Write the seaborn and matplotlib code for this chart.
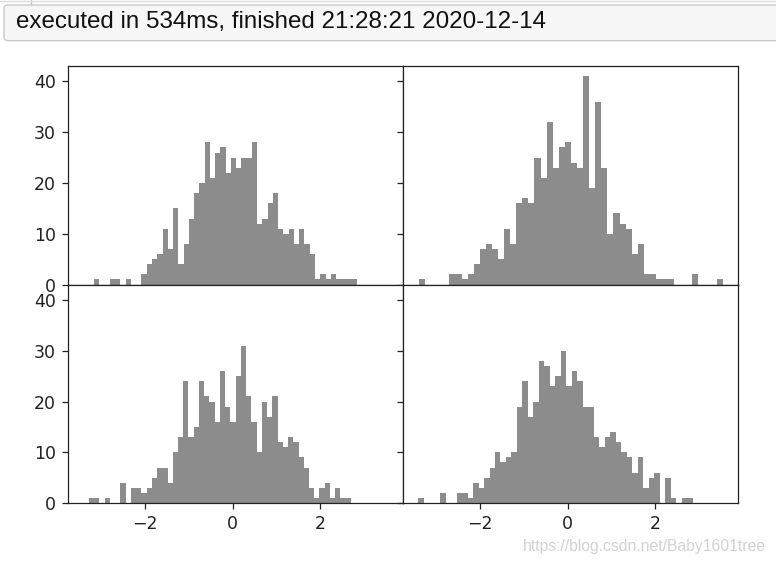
import numpy as np
import pandas as pd
import matplotlib
matplotlib.use("Agg")
import matplotlib.pyplot as plt
import seaborn as sns
from matplotlib.patches import FancyBboxPatch
from matplotlib.lines import Line2D

# ---- data (bin counts, 50 bins per panel) ----
n_bins = 50

tl_range = (-3.16, 2.84)
tl_counts = [1, 0, 0, 1, 1, 0, 1, 0, 0, 2, 4, 5, 6, 11, 7, 15, 4, 8, 13, 18,
             20, 28, 21, 26, 27, 22, 25, 23, 25, 25, 28, 12, 13, 16, 18, 11, 10, 11, 8, 11,
             8, 6, 1, 2, 1, 2, 1, 1, 1, 1]

tr_range = (-3.39, 3.54)
tr_counts = [1, 0, 0, 0, 0, 2, 2, 1, 2, 4, 7, 8, 7, 5, 11, 8, 16, 17, 16, 25,
             21, 32, 23, 27, 28, 24, 23, 41, 19, 36, 23, 10, 14, 12, 11, 6, 8, 2, 2, 1,
             1, 1, 0, 0, 0, 2, 0, 0, 0, 1]

bl_range = (-3.28, 2.70)
bl_counts = [1, 1, 0, 1, 0, 0, 4, 0, 3, 3, 2, 3, 5, 7, 7, 4, 10, 13, 24, 13,
             15, 24, 21, 20, 16, 26, 19, 16, 25, 31, 21, 16, 10, 20, 17, 21, 12, 11, 13, 12,
             9, 7, 3, 1, 3, 4, 1, 3, 1, 1]

br_range = (-3.41, 2.85)
br_counts = [1, 0, 0, 0, 2, 0, 0, 2, 2, 1, 4, 3, 5, 7, 10, 8, 9, 10, 19, 24,
             17, 20, 28, 27, 23, 25, 30, 23, 26, 24, 19, 19, 13, 11, 13, 14, 12, 10, 9, 6,
             9, 3, 5, 6, 0, 5, 1, 0, 1, 1]

xtick_values = [-2, 0, 2]
ytick_values = [0, 10, 20, 30, 40]

header_text = "executed in 534ms, finished 21:28:21 2020-12-14"
watermark_text = "https://blog.csdn.net/Baby1601tree"

# ---- style ----
sns.set_theme(style="ticks")
plt.rcParams["font.family"] = ["DejaVu Sans"]
plt.rcParams.update({
    "axes.edgecolor": "#222222",
    "axes.linewidth": 0.9,
    "xtick.color": "#222222",
    "ytick.color": "#222222",
    "xtick.labelcolor": "#222222",
    "ytick.labelcolor": "#222222",
    "xtick.direction": "out",
    "ytick.direction": "out",
    "xtick.major.size": 4.3,
    "ytick.major.size": 4.3,
    "xtick.major.width": 0.9,
    "ytick.major.width": 0.9,
    "xtick.major.pad": 4.5,
    "ytick.major.pad": 4.5,
    "xtick.labelsize": 12.5,
    "ytick.labelsize": 12.5,
    "axes.unicode_minus": True,
})

fig, axes = plt.subplots(2, 2, sharex=True, sharey=True, figsize=(7.76, 5.64), dpi=100)
fig.subplots_adjust(left=0.0876, right=0.951, top=0.883, bottom=0.108, wspace=0, hspace=0)

panels = [(tl_range, tl_counts), (tr_range, tr_counts),
          (bl_range, bl_counts), (br_range, br_counts)]

for ax, (rng, counts) in zip(axes.flat, panels):
    width = (rng[1] - rng[0]) / n_bins
    centers = rng[0] + width * (np.arange(n_bins) + 0.5)
    df = pd.DataFrame({"value": centers, "count": counts})
    sns.histplot(data=df, x="value", weights="count", bins=n_bins, binrange=rng,
                 color="k", alpha=0.5, linewidth=0, ax=ax)
    ax.set_xlabel("")
    ax.set_ylabel("")
    for s in ax.spines.values():
        s.set_visible(True)

axes[0, 0].set_xticks(xtick_values)
axes[0, 0].set_yticks(ytick_values)

# ---- notebook header and watermark ----
fig.patches.append(FancyBboxPatch((4 / 776, 1 - 40.7 / 564), 0.999, 35.7 / 564,
                                  boxstyle="round,pad=0,rounding_size=0.006",
                                  transform=fig.transFigure, facecolor="#f7f7f7",
                                  edgecolor="#c9c9c9", linewidth=1.0, zorder=0))
fig.lines.append(Line2D([31 / 776, 31 / 776], [1 - 5 / 564, 1.0],
                        transform=fig.transFigure, color="#c9c9c9", linewidth=1.0))
fig.lines.append(Line2D([0, 1], [1 - 1 / 564, 1 - 1 / 564],
                        transform=fig.transFigure, color="#dddddd", linewidth=1.0))
fig.text(16 / 776, 1 - 22 / 564, header_text, ha="left", va="center",
         fontsize=17.4, family=["Liberation Sans", "DejaVu Sans"], color="#111111")
fig.text(766 / 776, 1 - 547 / 564, watermark_text, ha="right", va="center",
         fontsize=11.3, family=["Liberation Sans", "DejaVu Sans"], color="#d2d2d2")

fig.savefig("out.png", dpi=100)
